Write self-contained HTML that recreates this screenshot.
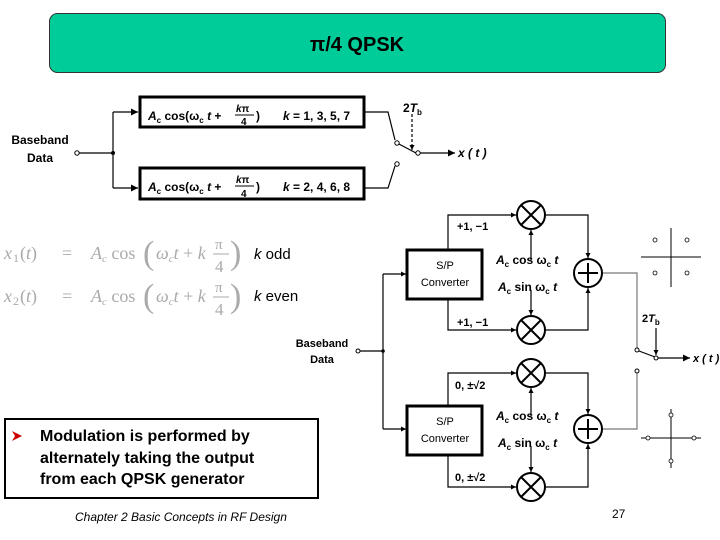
<!DOCTYPE html>
<html><head><meta charset="utf-8"><style>
body{margin:0;background:#fff;}
svg{display:block;font-family:"Liberation Sans",sans-serif;}
.b{font-weight:bold;}
</style></head><body>
<svg width="720" height="540" viewBox="0 0 720 540" xmlns="http://www.w3.org/2000/svg">
<defs>
<marker id="a" viewBox="0 0 10 10" refX="10" refY="5" markerWidth="7" markerHeight="5" orient="auto" markerUnits="userSpaceOnUse"><path d="M0,0L10,5L0,10z" fill="#000"/></marker>
<marker id="a2" viewBox="0 0 10 10" refX="10" refY="5" markerWidth="12" markerHeight="7" orient="auto" markerUnits="userSpaceOnUse"><path d="M0,0L10,5L0,10z" fill="#000"/></marker>
</defs>
<rect x="49.5" y="13.5" width="616" height="59" rx="8" fill="#00CC99" stroke="#333" stroke-width="1"/>
<text x="357" y="51" font-size="20" text-anchor="middle" class="b">π/4 QPSK</text>

<text x="40" y="144" font-size="12" class="b" text-anchor="middle">Baseband</text>
<text x="40" y="162" font-size="12" class="b" text-anchor="middle">Data</text>
<circle cx="77" cy="153" r="2.2" fill="#fff" stroke="#000"/>
<g stroke="#000" stroke-width="1.2" fill="none">
<path d="M79 153H113M113 112V188"/>
<path d="M113 112H138" marker-end="url(#a2)"/>
<path d="M113 188H138" marker-end="url(#a2)"/>
<path d="M364 112H388L395 140M364 188H388L395 166"/>
<path d="M397 143L416 153"/>
<path d="M420 153H455" marker-end="url(#a2)"/>
<path d="M412 114V150" stroke-dasharray="3,2" marker-end="url(#a)"/>
</g>
<rect x="140" y="97" width="224" height="30" fill="#fff" stroke="#000" stroke-width="3"/>
<rect x="140" y="168" width="224" height="31" fill="#fff" stroke="#000" stroke-width="3"/>
<circle cx="113" cy="153" r="2" fill="#000"/>
<circle cx="397" cy="143" r="2.2" fill="#fff" stroke="#000"/>
<circle cx="397" cy="164" r="2.2" fill="#fff" stroke="#000"/>
<circle cx="418" cy="153" r="2.2" fill="#fff" stroke="#000"/>
<g font-size="12" class="b">
<text x="148" y="120"><tspan font-style="italic">A</tspan><tspan font-size="8" dy="3">c</tspan><tspan dy="-3"> cos(ω</tspan><tspan font-size="8" dy="3">c</tspan><tspan dy="-3" font-style="italic"> t</tspan> +</text>
<text x="236" y="112" font-size="10"><tspan font-style="italic">k</tspan>π</text>
<line x1="235" y1="115" x2="254" y2="115" stroke="#000"/>
<text x="241" y="125" font-size="10">4</text>
<text x="256" y="120">)</text>
<text x="283" y="120"><tspan font-style="italic">k</tspan> = 1, 3, 5, 7</text>
<text x="148" y="191"><tspan font-style="italic">A</tspan><tspan font-size="8" dy="3">c</tspan><tspan dy="-3"> cos(ω</tspan><tspan font-size="8" dy="3">c</tspan><tspan dy="-3" font-style="italic"> t</tspan> +</text>
<text x="236" y="183" font-size="10"><tspan font-style="italic">k</tspan>π</text>
<line x1="235" y1="186" x2="254" y2="186" stroke="#000"/>
<text x="241" y="197" font-size="10">4</text>
<text x="256" y="191">)</text>
<text x="283" y="191"><tspan font-style="italic">k</tspan> = 2, 4, 6, 8</text>
<text x="403" y="112">2<tspan font-style="italic">T</tspan><tspan font-size="8" dy="3">b</tspan></text>
<text x="458" y="157" font-style="italic">x ( t )</text>
</g>

<g font-family="Liberation Serif,serif" fill="#aaa" font-size="18">
<text x="4" y="259" font-style="italic">x</text><text x="13" y="262" font-size="12">1</text><text x="20" y="259">(<tspan font-style="italic">t</tspan>)</text>
<text x="62" y="259">=</text>
<text x="91" y="259"><tspan font-style="italic">A</tspan><tspan font-size="11" dy="3" font-style="italic">c</tspan><tspan dy="-3"> cos</tspan></text>
<text x="143" y="264" font-size="34">(</text>
<text x="156" y="259"><tspan font-style="italic">ω</tspan><tspan font-size="11" dy="3" font-style="italic">c</tspan><tspan dy="-3" font-style="italic">t</tspan> + <tspan font-style="italic">k</tspan></text>
<text x="215" y="249" font-size="15">π</text><line x1="213" y1="254" x2="229" y2="254" stroke="#aaa"/><text x="215" y="272" font-size="17">4</text>
<text x="230" y="264" font-size="34">)</text>
<text x="4" y="302" font-style="italic">x</text><text x="13" y="305" font-size="12">2</text><text x="20" y="302">(<tspan font-style="italic">t</tspan>)</text>
<text x="62" y="302">=</text>
<text x="91" y="302"><tspan font-style="italic">A</tspan><tspan font-size="11" dy="3" font-style="italic">c</tspan><tspan dy="-3"> cos</tspan></text>
<text x="143" y="307" font-size="34">(</text>
<text x="156" y="302"><tspan font-style="italic">ω</tspan><tspan font-size="11" dy="3" font-style="italic">c</tspan><tspan dy="-3" font-style="italic">t</tspan> + <tspan font-style="italic">k</tspan></text>
<text x="215" y="292" font-size="15">π</text><line x1="213" y1="297" x2="229" y2="297" stroke="#aaa"/><text x="215" y="315" font-size="17">4</text>
<text x="230" y="307" font-size="34">)</text>
</g>
<text x="254" y="259" font-size="15"><tspan font-style="italic">k</tspan> odd</text>
<text x="254" y="301" font-size="15"><tspan font-style="italic">k</tspan> even</text>

<text x="322" y="347" font-size="11" class="b" text-anchor="middle">Baseband</text>
<text x="322" y="363" font-size="11" class="b" text-anchor="middle">Data</text>
<circle cx="358" cy="351" r="2" fill="#fff" stroke="#000"/>
<g stroke="#000" stroke-width="1.2" fill="none">
<path d="M360 351H383M383 274V429"/>
<path d="M383 274H406" marker-end="url(#a)"/>
<path d="M383 429H406" marker-end="url(#a)"/>
<path d="M448 249V215H516" marker-end="url(#a)"/>
<path d="M448 299V330H516" marker-end="url(#a)"/>
<path d="M448 406V373H516" marker-end="url(#a)"/>
<path d="M448 455V487H516" marker-end="url(#a)"/>
<path d="M531 260V230" marker-end="url(#a)"/>
<path d="M531 290V315" marker-end="url(#a)"/>
<path d="M531 416V388" marker-end="url(#a)"/>
<path d="M531 446V472" marker-end="url(#a)"/>
<path d="M545 215H588V258" marker-end="url(#a)"/>
<path d="M545 330H588V288" marker-end="url(#a)"/>
<path d="M545 373H588V414" marker-end="url(#a)"/>
<path d="M545 487H588V444" marker-end="url(#a)"/>
</g>
<g stroke="#777" stroke-width="1.2" fill="none">
<path d="M602 273H637V348M602 429H637V373"/>
</g>
<g stroke="#000" stroke-width="1.2" fill="none">
<path d="M639 351L655 357"/>
<path d="M658 358H690" marker-end="url(#a2)"/>
<path d="M656 328V355" marker-end="url(#a)"/>
</g>
<circle cx="637" cy="350" r="2" fill="#fff" stroke="#000"/>
<circle cx="637" cy="371" r="2" fill="#fff" stroke="#000"/>
<circle cx="656" cy="358" r="2" fill="#fff" stroke="#000"/>
<circle cx="383" cy="351" r="1.8" fill="#000"/>
<rect x="407" y="250" width="75" height="49" fill="#fff" stroke="#000" stroke-width="3"/>
<rect x="407" y="406" width="75" height="49" fill="#fff" stroke="#000" stroke-width="3"/>
<g font-size="11" text-anchor="middle">
<text x="445" y="269">S/P</text>
<text x="445" y="286">Converter</text>
<text x="445" y="425">S/P</text>
<text x="445" y="442">Converter</text>
</g>
<g fill="#fff" stroke="#000" stroke-width="2">
<circle cx="531" cy="215" r="14"/><circle cx="531" cy="330" r="14"/>
<circle cx="531" cy="373" r="14"/><circle cx="531" cy="487" r="14"/>
<circle cx="588" cy="273" r="14"/><circle cx="588" cy="429" r="14"/>
</g>
<g stroke="#000" stroke-width="2">
<path d="M521 205L541 225M541 205L521 225"/>
<path d="M521 320L541 340M541 320L521 340"/>
<path d="M521 363L541 383M541 363L521 383"/>
<path d="M521 477L541 497M541 477L521 497"/>
<path d="M578 273H598M588 263V283"/>
<path d="M578 429H598M588 419V439"/>
</g>
<g font-size="11" class="b">
<text x="457" y="230">+1, −1</text>
<text x="457" y="326">+1, −1</text>
<text x="455" y="389">0, ±√2</text>
<text x="455" y="481">0, ±√2</text>
<text x="496" y="264" font-size="12"><tspan font-style="italic">A</tspan><tspan font-size="8" dy="3">c</tspan><tspan dy="-3"> cos ω</tspan><tspan font-size="8" dy="3">c</tspan><tspan dy="-3" font-style="italic"> t</tspan></text>
<text x="498" y="291" font-size="12"><tspan font-style="italic">A</tspan><tspan font-size="8" dy="3">c</tspan><tspan dy="-3"> sin ω</tspan><tspan font-size="8" dy="3">c</tspan><tspan dy="-3" font-style="italic"> t</tspan></text>
<text x="496" y="420" font-size="12"><tspan font-style="italic">A</tspan><tspan font-size="8" dy="3">c</tspan><tspan dy="-3"> cos ω</tspan><tspan font-size="8" dy="3">c</tspan><tspan dy="-3" font-style="italic"> t</tspan></text>
<text x="498" y="447" font-size="12"><tspan font-style="italic">A</tspan><tspan font-size="8" dy="3">c</tspan><tspan dy="-3"> sin ω</tspan><tspan font-size="8" dy="3">c</tspan><tspan dy="-3" font-style="italic"> t</tspan></text>
<text x="642" y="322">2<tspan font-style="italic">T</tspan><tspan font-size="8" dy="3">b</tspan></text>
<text x="693" y="362" font-style="italic">x ( t )</text>
</g>
<g stroke="#000" stroke-width="1" fill="none">
<path d="M641 257H701M671 228V287"/>
<path d="M641 438H701M671 409V468"/>
</g>
<g fill="#fff" stroke="#000" stroke-width="0.8">
<circle cx="655" cy="240" r="2"/><circle cx="687" cy="240" r="2"/>
<circle cx="655" cy="273" r="2"/><circle cx="687" cy="273" r="2"/>
<circle cx="648" cy="438" r="2"/><circle cx="694" cy="438" r="2"/>
<circle cx="671" cy="415" r="2"/><circle cx="671" cy="461" r="2"/>
</g>

<rect x="5" y="419" width="313" height="79" fill="#fff" stroke="#000" stroke-width="2"/>
<path d="M12 431L22 436L12 441L15 436z" fill="#c00"/>
<g font-size="16" class="b">
<text x="40" y="441">Modulation is performed by</text>
<text x="40" y="463">alternately taking the output</text>
<text x="40" y="484">from each QPSK generator</text>
</g>
<text x="75" y="521" font-size="12" font-style="italic">Chapter 2 Basic Concepts in RF Design</text>
<text x="612" y="518" font-size="12">27</text>
</svg>
</body></html>
